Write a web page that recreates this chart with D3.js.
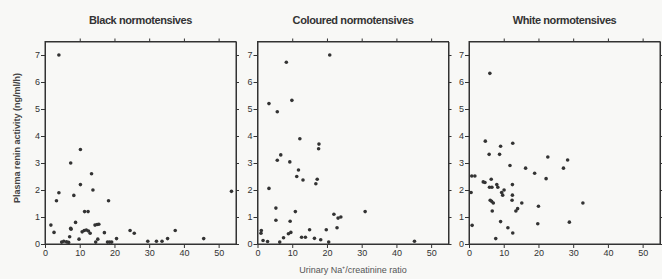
<!DOCTYPE html>
<html>
<head>
<meta charset="utf-8">
<script src="https://cdn.jsdelivr.net/npm/d3@7"></script>
<style>
	body { margin: 0; background: #f8f8f6; }
	svg { display: block; font-family: "Liberation Sans", Arial, sans-serif; }
	.tick text { fill: #333; font-size: 9px; }
	.tick line, .domain { stroke: #333; }
</style>
</head>
<body>
<div class="chart"></div>
<script>
var titles = ['Black normotensives', 'Coloured normotensives', 'White normotensives'];

var xTicks = [0, 10, 20, 30, 40, 50];
var yTicks = [0, 1, 2, 3, 4, 5, 6, 7];

// [Na+/creatinine ratio, plasma renin activity]
var black = [
	[4.0, 7.0], [1.7, 0.7], [2.6, 0.43], [3.3, 1.6], [4.0, 1.9], [7.4, 3.0], [7.4, 0.58],
	[8.3, 1.8], [8.8, 0.8], [10.2, 3.5], [10.2, 2.2], [9.8, 0.18], [13.4, 2.6], [13.8, 2.0],
	[11.4, 1.2], [12.4, 1.2], [10.7, 0.45], [11.3, 0.5], [11.9, 0.52], [12.5, 0.48], [13.0, 0.4],
	[14.4, 0.7], [15.0, 0.72], [15.5, 0.73], [18.3, 1.6], [17.1, 0.42], [15.2, 0.18], [14.6, 0.07],
	[18.0, 0.07], [18.6, 0.07], [19.2, 0.07], [20.6, 0.2], [24.5, 0.5], [25.7, 0.4],
	[29.6, 0.1], [32.1, 0.1], [33.7, 0.1], [35.3, 0.2], [37.5, 0.5], [45.7, 0.2],
	[4.8, 0.07], [5.4, 0.1], [6.2, 0.08], [6.8, 0.06], [7.1, 0.27], [7.5, 0.55], [53.7, 1.95]
];

var coloured = [
	[20.8, 7.0], [8.3, 6.73], [9.9, 5.32], [3.3, 5.2], [5.7, 4.9], [12.2, 3.9], [17.7, 3.7],
	[17.6, 3.53], [6.7, 3.3], [5.7, 3.1], [9.3, 3.04], [11.8, 2.74], [11.3, 2.5], [13.1, 2.37],
	[17.2, 2.4], [16.8, 2.23], [3.3, 2.06], [5.3, 1.33], [5.3, 0.88], [10.9, 1.2], [9.4, 0.84],
	[8.9, 0.38], [9.6, 0.43], [22.0, 1.1], [23.2, 0.96], [24.0, 1.0], [31.0, 1.2], [22.9, 0.6],
	[19.8, 0.53], [15.0, 0.53], [12.7, 0.25], [13.8, 0.25], [16.4, 0.21], [18.2, 0.16],
	[20.5, 0.07], [7.5, 0.23], [6.4, 0.07], [1.1, 0.5], [1.0, 0.4], [1.6, 0.13], [2.9, 0.09],
	[45.2, 0.1]
];

var white = [
	[6.0, 6.32], [4.7, 3.81], [9.1, 3.62], [12.6, 3.73], [5.8, 3.32], [8.8, 3.32], [22.7, 3.22],
	[28.4, 3.11], [11.8, 2.91], [16.3, 2.81], [27.2, 2.81], [18.9, 2.62], [22.2, 2.42],
	[0.8, 2.52], [1.7, 2.52], [4.1, 2.3], [4.6, 2.28], [6.4, 2.4], [5.9, 2.1], [6.6, 2.1],
	[8.0, 2.2], [8.3, 2.1], [12.5, 2.2], [10.1, 2.0], [9.4, 1.91], [9.7, 1.81], [0.6, 1.91],
	[12.5, 1.81], [6.1, 1.62], [6.5, 1.58], [7.0, 1.52], [12.4, 1.62], [15.2, 1.52], [32.8, 1.52],
	[20.0, 1.4], [6.7, 1.22], [13.5, 1.22], [14.0, 1.31], [0.9, 0.69], [9.1, 0.83], [19.8, 0.75],
	[28.9, 0.81], [11.2, 0.6], [12.6, 0.41], [7.7, 0.2]
];

var datasets = [black, coloured, white];

var width = 662,
	height = 279,
	panelLeft = [45, 257.5, 469],
	panelW = 191,
	plotTop = 41.5,
	plotBottom = 244;

var svg = d3.select('.chart')
	.append('svg')
	.attr('width', width)
	.attr('height', height);

var y = d3.scaleLinear()
	.domain([0, 7.5])
	.range([plotBottom, plotTop]);

datasets.forEach(function(data, i) {
	var x = d3.scaleLinear()
		.domain([0, 55])
		.range([panelLeft[i], panelLeft[i] + panelW]);

	var g = svg.append('g');

	g.append('rect')
		.attr('x', panelLeft[i])
		.attr('y', plotTop)
		.attr('width', panelW)
		.attr('height', plotBottom - plotTop)
		.attr('fill', 'none')
		.attr('stroke', '#333')
		.attr('stroke-width', 1);

	g.append('g')
		.attr('transform', 'translate(0,' + plotBottom + ')')
		.call(d3.axisBottom(x).tickValues(xTicks).tickSize(4).tickPadding(2).tickSizeOuter(0));

	g.append('g')
		.attr('transform', 'translate(0,' + plotTop + ')')
		.call(d3.axisTop(x).tickValues(xTicks.slice(1)).tickSize(3).tickFormat('').tickSizeOuter(0));

	g.append('g')
		.attr('transform', 'translate(' + panelLeft[i] + ',0)')
		.call(d3.axisLeft(y).tickValues(yTicks).tickSize(4).tickPadding(1).tickSizeOuter(0));

	g.append('g')
		.attr('transform', 'translate(' + (panelLeft[i] + panelW) + ',0)')
		.call(d3.axisRight(y).tickValues(yTicks).tickSize(3).tickFormat('').tickSizeOuter(0));

	g.selectAll('.dot')
		.data(data)
		.enter()
		.append('circle')
		.attr('class', 'dot')
		.attr('cx', function(d) { return x(d[0]); })
		.attr('cy', function(d) { return y(d[1]); })
		.attr('r', 1.8)
		.attr('fill', '#333');

	g.append('text')
		.attr('x', panelLeft[i] + panelW / 2)
		.attr('y', 24)
		.attr('text-anchor', 'middle')
		.attr('font-size', 11)
		.attr('font-weight', 'bold')
		.attr('letter-spacing', -0.4)
		.attr('fill', '#333')
		.text(titles[i]);
});

svg.append('text')
	.attr('transform', 'translate(20,138) rotate(-90)')
	.attr('text-anchor', 'middle')
	.attr('font-size', 9)
	.attr('font-weight', 'bold')
	.attr('fill', '#444')
	.text('Plasma renin activity (ng/ml/h)');

svg.append('text')
	.attr('x', panelLeft[1] + panelW / 2)
	.attr('y', 273)
	.attr('text-anchor', 'middle')
	.attr('font-size', 9)
	.attr('fill', '#555')
	.text('Urinary Na⁺/creatinine ratio');
</script>
</body>
</html>
